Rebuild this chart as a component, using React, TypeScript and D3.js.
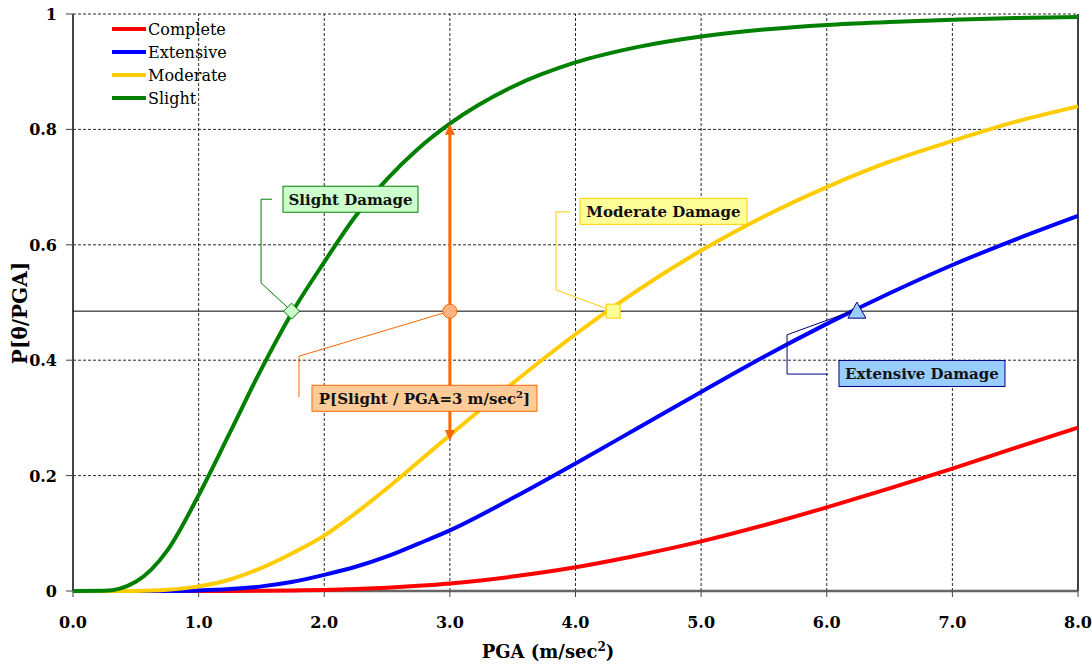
import React from 'react';
import * as d3 from 'd3';

// PGA grid (m/sec^2) and fragility values
const pgaGrid = [0, 0.25, 0.5, 0.75, 1, 1.25, 1.5, 1.75, 2, 2.25, 2.5, 2.75, 3, 3.5, 4, 4.5, 5, 5.5, 6, 6.5, 7, 7.5, 8];
const complete = [0, 0, 0, 0, 0, 0, 0.0003, 0.0009, 0.0018, 0.0034, 0.0057, 0.0089, 0.013, 0.025, 0.041, 0.062, 0.086, 0.114, 0.145, 0.178, 0.212, 0.248, 0.283];
const extensive = [0, 0, 0, 0.0002, 0.001, 0.0034, 0.008, 0.016, 0.028, 0.042, 0.06, 0.082, 0.105, 0.161, 0.221, 0.283, 0.345, 0.406, 0.463, 0.516, 0.565, 0.609, 0.65];
const moderate = [0, 0, 0.0002, 0.002, 0.008, 0.02, 0.04, 0.066, 0.096, 0.135, 0.178, 0.224, 0.27, 0.36, 0.445, 0.522, 0.59, 0.649, 0.7, 0.744, 0.78, 0.813, 0.84];
const slight = [0, 0.0003, 0.016, 0.07, 0.166, 0.275, 0.385, 0.485, 0.57, 0.65, 0.714, 0.767, 0.81, 0.874, 0.916, 0.943, 0.961, 0.973, 0.981, 0.986, 0.99, 0.993, 0.995];

const seriesNames = ['Complete', 'Extensive', 'Moderate', 'Slight'];
const seriesValues = [complete, extensive, moderate, slight];
const seriesColors = ['#ff0000', '#0000ff', '#ffcc00', '#008000'];

const xTicks = [0, 1, 2, 3, 4, 5, 6, 7, 8];
const yTicks = [0, 0.2, 0.4, 0.6, 0.8, 1];

// reference probability level and example PGA
const refLevel = 0.485;
const examplePga = 3;
const exampleTop = 0.81;
const exampleBottom = 0.26;

const FONT = '"DejaVu Serif", serif';

const annotations = [
  { text: 'Slight Damage', cx: 2.209, cy: 0.679, w: 135, fill: '#ccffcc', stroke: '#008000',
    leader: [[1.584, 0.679], [1.497, 0.679], [1.497, 0.534], [1.74, 0.485]] },
  { text: 'Moderate Damage', cx: 4.7, cy: 0.658, w: 167, fill: '#ffff99', stroke: '#ffcc00',
    leader: [[3.956, 0.657], [3.845, 0.657], [3.845, 0.522], [4.3, 0.485]] },
  { text: 'Extensive Damage', cx: 6.758, cy: 0.377, w: 166, fill: '#99ccff', stroke: '#000080',
    leader: [[6.01, 0.376], [5.684, 0.376], [5.684, 0.444], [6.2, 0.485]] },
  { text: 'P[Slight / PGA=3 m/sec', sup: '2', tail: ']', cx: 2.798, cy: 0.334, w: 225, fill: '#ffcc99', stroke: '#ff6600',
    leader: [[1.799, 0.336], [1.799, 0.407], [3, 0.485]] },
];

export default function App() {
  const x = d3.scaleLinear().domain([0, 8]).range([73, 1078]);
  const y = d3.scaleLinear().domain([0, 1]).range([591, 14]);

  const line = d3.line<number>()
    .x((_, i) => x(pgaGrid[i]))
    .y(d => y(d))
    .curve(d3.curveMonotoneX);

  const leaderLine = d3.line<number[]>().x(d => x(d[0])).y(d => y(d[1]));

  const ax = x(examplePga);
  const aTop = y(exampleTop);
  const aBot = y(exampleBottom);

  const ry = y(refLevel);

  return (
    <svg width={1092} height={664} style={{ position: 'absolute', left: 0, top: 0, background: '#fff' }}
      fontFamily={FONT}>
      {/* grid */}
      {xTicks.slice(1, -1).map(t => (
        <line key={'gx' + t} x1={x(t)} x2={x(t)} y1={y(0)} y2={y(1)} stroke="#111" strokeWidth={0.9} strokeDasharray="3,2" />
      ))}
      {yTicks.slice(1).map(t => (
        <line key={'gy' + t} x1={x(0)} x2={x(8)} y1={y(t)} y2={y(t)} stroke="#111" strokeWidth={0.9} strokeDasharray="3,2" />
      ))}
      <line x1={x(8)} x2={x(8)} y1={y(0)} y2={y(1)} stroke="#000" strokeWidth={1.5} />

      {/* axes */}
      <line x1={x(0)} x2={x(0)} y1={y(0)} y2={y(1)} stroke="#444" strokeWidth={2} />
      <line x1={x(0)} x2={x(8)} y1={y(0)} y2={y(0)} stroke="#666" strokeWidth={2.5} />
      {yTicks.map(t => (
        <g key={'yt' + t}>
          <line x1={x(0) - 7} x2={x(0)} y1={y(t)} y2={y(t)} stroke="#444" strokeWidth={1} />
          <text x={57} y={y(t) + 6} textAnchor="end" fontSize={16} fontWeight="bold">{t === 0 || t === 1 ? String(t) : t.toFixed(1)}</text>
        </g>
      ))}
      {xTicks.map(t => (
        <g key={'xt' + t}>
          <line x1={x(t)} x2={x(t)} y1={y(0)} y2={y(0) + 6} stroke="#444" strokeWidth={1} />
          <text x={x(t)} y={628} textAnchor="middle" fontSize={16} fontWeight="bold">{t.toFixed(1)}</text>
        </g>
      ))}

      {/* reference level line */}
      <line x1={x(0)} x2={x(8)} y1={ry} y2={ry} stroke="#000" strokeWidth={1} />

      {/* curves */}
      {seriesValues.map((vals, i) => (
        <path key={seriesNames[i]} d={line(vals) || ''} fill="none" stroke={seriesColors[i]} strokeWidth={4} />
      ))}

      {/* vertical arrow at PGA = 3 */}
      <line x1={ax} x2={ax} y1={aTop + 10} y2={aBot - 10} stroke="#ff6600" strokeWidth={3} />
      <polygon points={`${ax},${aTop} ${ax - 5},${aTop + 11} ${ax + 5},${aTop + 11}`} fill="#ff6600" />
      <polygon points={`${ax},${aBot} ${ax - 5},${aBot - 11} ${ax + 5},${aBot - 11}`} fill="#ff6600" />

      {/* leaders */}
      {annotations.map(a => (
        <path key={'ld' + a.text} d={leaderLine(a.leader) || ''} fill="none" stroke={a.stroke} strokeWidth={1} />
      ))}

      {/* markers */}
      <path d={`M${x(1.74)},${ry - 8}L${x(1.74) + 8},${ry}L${x(1.74)},${ry + 8}L${x(1.74) - 8},${ry}Z`} fill="#ccffcc" stroke="#008000" strokeWidth={1} />
      <rect x={x(4.3) - 7} y={ry - 7} width={14} height={14} fill="#ffff99" stroke="#ffcc00" strokeWidth={1} />
      <path d={`M${x(6.24)},${ry - 9}L${x(6.24) + 9},${ry + 7}L${x(6.24) - 9},${ry + 7}Z`} fill="#99ccff" stroke="#000080" strokeWidth={1} />
      <circle cx={ax} cy={ry} r={7} fill="#ffb380" stroke="#ff6600" strokeWidth={1} />

      {/* annotation boxes */}
      {annotations.map(a => (
        <g key={'bx' + a.text}>
          <rect x={x(a.cx) - a.w / 2} y={y(a.cy) - 13} width={a.w} height={26} fill={a.fill} stroke={a.stroke} strokeWidth={1} />
          <text x={x(a.cx)} y={y(a.cy) + 6} textAnchor="middle" fontSize={15} fontWeight="bold" fill="#111">
            {a.text}
            {a.sup ? <tspan dy={-6} fontSize={10}>{a.sup}</tspan> : null}
            {a.tail ? <tspan dy={6}>{a.tail}</tspan> : null}
          </text>
        </g>
      ))}

      {/* legend */}
      {seriesNames.map((n, i) => (
        <g key={'lg' + n} transform={`translate(112,${29 + i * 23})`}>
          <line x1={0} x2={34} y1={0} y2={0} stroke={seriesColors[i]} strokeWidth={4} />
          <text x={36} y={6} fontSize={16}>{n}</text>
        </g>
      ))}

      {/* axis titles */}
      <text x={548} y={658} textAnchor="middle" fontSize={18} fontWeight="bold">
        PGA (m/sec<tspan dy={-7} fontSize={12}>2</tspan><tspan dy={7}>)</tspan>
      </text>
      <text transform={`translate(27,313) rotate(-90)`} textAnchor="middle" fontSize={20} fontWeight="bold">P[θ/PGA]</text>
    </svg>
  );
}
